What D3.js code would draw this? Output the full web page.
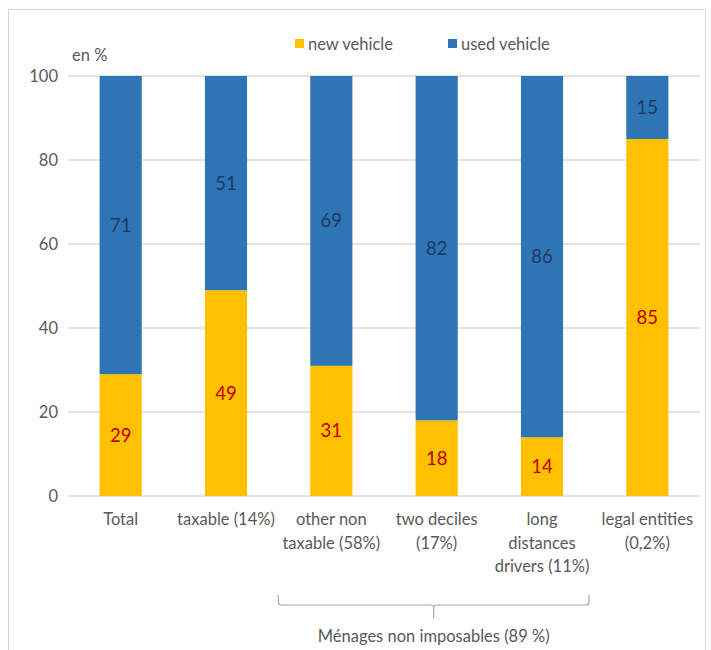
<!DOCTYPE html>
<html>
<head>
<meta charset="utf-8">
<script src="https://cdn.jsdelivr.net/npm/d3@7"></script>
<style>
  html, body { margin: 0; padding: 0; background: #fff; }
  svg { display: block; font-family: Lato, "Open Sans", sans-serif; }
</style>
</head>
<body>
<svg id="chart" width="711" height="650"></svg>
<script>
// Share of new vs used vehicles by household group (en %)
const categories = [
  ["Total"],
  ["taxable (14%)"],
  ["other non", "taxable (58%)"],
  ["two deciles", "(17%)"],
  ["long", "distances", "drivers (11%)"],
  ["legal entities", "(0,2%)"]
];
const newVehicle  = [29, 49, 31, 18, 14, 85];
const usedVehicle = [71, 51, 69, 82, 86, 15];
const yTicks = [0, 20, 40, 60, 80, 100];
const seriesNames = ["new vehicle", "used vehicle"];
const seriesColors = ["#FFC000", "#2E75B6"];
const labelColors = ["#C00000", "#1F3864"];
const groupLabel = "Ménages non imposables (89 %)";

const textColor = "#595959";
const fontSize = 16.5;

const svg = d3.select("#chart");

// outer frame
svg.append("rect")
  .attr("x", 8.5).attr("y", 9.5)
  .attr("width", 697).attr("height", 660)
  .attr("fill", "none").attr("stroke", "#d9d9d9").attr("stroke-width", 1);

const plot = { left: 68, right: 700, top: 76, bottom: 496 };

const x = d3.scaleBand()
  .domain(d3.range(categories.length))
  .range([plot.left, plot.right])
  .paddingInner(0.6).paddingOuter(0.3);

const y = d3.scaleLinear().domain([0, 100]).range([plot.bottom, plot.top]);

// gridlines
svg.append("g").selectAll("line").data(yTicks).join("line")
  .attr("x1", plot.left).attr("x2", plot.right)
  .attr("y1", d => y(d)).attr("y2", d => y(d))
  .attr("stroke", "#d9d9d9").attr("stroke-width", 1.5);

// y axis labels
const yAxis = svg.append("g")
  .attr("transform", `translate(${plot.left - 10},0)`)
  .call(d3.axisLeft(y).tickValues(yTicks).tickSize(0).tickPadding(0));
yAxis.select(".domain").remove();
yAxis.selectAll("text")
  .attr("fill", textColor).attr("font-size", fontSize)
  .attr("font-family", "Lato, 'Open Sans', sans-serif");

svg.append("text")
  .attr("x", 72).attr("y", 61)
  .attr("fill", textColor).attr("font-size", fontSize)
  .text("en %");

// stacked data
const rows = categories.map((c, i) => ({ i, new: newVehicle[i], used: usedVehicle[i] }));
const stack = d3.stack().keys(["new", "used"])(rows);

stack.forEach((layer, k) => {
  const g = svg.append("g");
  g.selectAll("rect").data(layer).join("rect")
    .attr("x", d => x(d.data.i))
    .attr("width", x.bandwidth())
    .attr("y", d => y(d[1]))
    .attr("height", d => y(d[0]) - y(d[1]))
    .attr("fill", seriesColors[k]);
  g.selectAll("text").data(layer).join("text")
    .attr("x", d => x(d.data.i) + x.bandwidth() / 2)
    .attr("y", d => (y(d[0]) + y(d[1])) / 2)
    .attr("dy", "0.35em")
    .attr("text-anchor", "middle")
    .attr("font-size", 18.5)
    .attr("fill", labelColors[k])
    .text(d => d[1] - d[0]);
});

// category labels
const xl = svg.append("g");
categories.forEach((lines, i) => {
  const t = xl.append("text")
    .attr("x", x(i) + x.bandwidth() / 2)
    .attr("y", 525)
    .attr("text-anchor", "middle")
    .attr("fill", textColor).attr("font-size", fontSize);
  lines.forEach((ln, j) => {
    t.append("tspan").attr("x", x(i) + x.bandwidth() / 2)
      .attr("dy", j === 0 ? 0 : 23.5).text(ln);
  });
});

// legend
const legendX = [295, 448];
seriesNames.forEach((name, k) => {
  svg.append("rect")
    .attr("x", legendX[k]).attr("y", 39)
    .attr("width", 9).attr("height", 9)
    .attr("fill", seriesColors[k]);
  svg.append("text")
    .attr("x", legendX[k] + 13).attr("y", 49.5)
    .attr("fill", textColor).attr("font-size", fontSize)
    .text(name);
});

// bracket under the non-taxable household groups
const bl = x(2) + x.bandwidth() / 2 - 53;
const br = x(4) + x.bandwidth() / 2 + 47;
const bm = (bl + br) / 2;
const by = 605, r = 3;
svg.append("path")
  .attr("d", `M${bl},595 V${by - r} Q${bl},${by} ${bl + r},${by} H${bm - r} Q${bm},${by} ${bm},${by + r} V618 M${bm},${by + r} Q${bm},${by} ${bm + r},${by} H${br - r} Q${br},${by} ${br},${by - r} V595`)
  .attr("fill", "none").attr("stroke", "#a6a6a6").attr("stroke-width", 1.2);

svg.append("text")
  .attr("x", bm).attr("y", 642)
  .attr("text-anchor", "middle")
  .attr("fill", textColor).attr("font-size", fontSize)
  .text(groupLabel);
</script>
</body>
</html>
